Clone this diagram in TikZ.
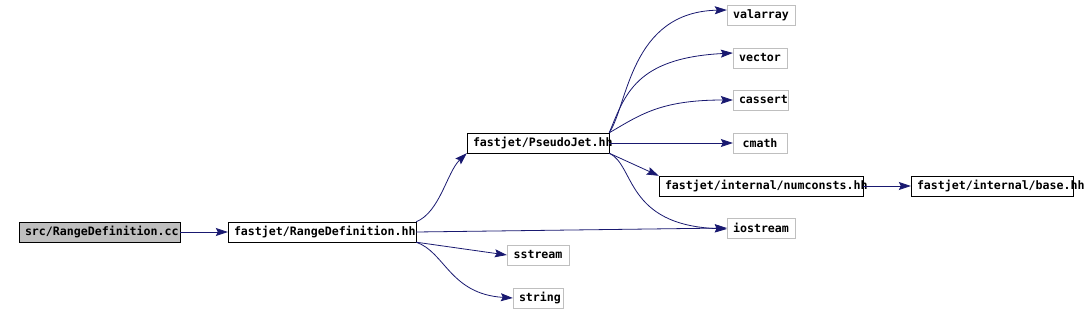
\documentclass[tikz,border=0pt]{standalone}
\usepackage{fontspec}
\setmonofont[HyphenChar=None]{DejaVu Sans Mono}
\usetikzlibrary{arrows.meta}
\definecolor{edgeblue}{HTML}{191970}
\definecolor{boxgray}{HTML}{BFBFBF}

\begin{document}
\begin{tikzpicture}[x=1pt, y=-1pt, >={Stealth[length=12pt, width=8pt, inset=2pt]},
    file/.style={draw=black, rectangle, inner xsep=6pt, inner ysep=0pt,
        minimum height=20pt, text width=#1, align=center,
        font=\fontsize{11.6}{12}\selectfont\ttfamily\bfseries},
    sysfile/.style={file=#1, draw=boxgray},
    dep/.style={->, edgeblue, line width=0.8pt}]
    \useasboundingbox (0,0) rectangle (1089,313);

    % --- Source file and its direct header ---
    \node[file=149pt, fill=boxgray] (src) at (99.5,232) {src/RangeDefinition.cc};
    \node[file=176pt] (rdef) at (322,232) {fastjet/RangeDefinition.hh};

    % --- Second level ---
    \node[file=130pt] (pj) at (538,143) {fastjet/PseudoJet.hh};
    \node[sysfile=50pt] (sstream) at (538,255) {sstream};
    \node[sysfile=38pt] (string) at (538,298) {string};

    % --- Third level (system headers and internals) ---
    \node[sysfile=56pt] (valarray) at (761,15) {valarray};
    \node[sysfile=42pt] (vector) at (760,58) {vector};
    \node[sysfile=43pt] (cassert) at (760.5,100) {cassert};
    \node[sysfile=42pt] (cmath) at (760,143) {cmath};
    \node[file=192pt] (numconsts) at (761,186) {fastjet/internal/numconsts.hh};
    \node[sysfile=56pt] (iostream) at (761,228) {iostream};

    % --- Fourth level ---
    \node[file=150pt] (base) at (992,186) {fastjet/internal/base.hh};

    % --- Includes of src/RangeDefinition.cc ---
    \draw[dep] (src) -- (rdef);

    % --- Includes of fastjet/RangeDefinition.hh ---
    \draw[dep] (rdef.north east) .. controls (440,212) and (447,172) .. (pj.south west);
    \draw[dep] (rdef.east) -- (iostream.west);
    \draw[dep] (rdef.south east) -- (sstream.west);
    \draw[dep] (rdef.south east) .. controls (445,252) and (450,294) .. (string.west);

    % --- Includes of fastjet/PseudoJet.hh ---
    \draw[dep] (pj.north east) .. controls (628,105) and (630,12) .. ([yshift=5pt]valarray.west);
    \draw[dep] (pj.north east) .. controls (625,95) and (635,58) .. ([yshift=5pt]vector.west);
    \draw[dep] (pj.north east) .. controls (640,115) and (660,100) .. (cassert.west);
    \draw[dep] (pj.east) -- (cmath.west);
    \draw[dep] (pj.south east) -- (numconsts.north west);
    \draw[dep] (pj.south east) .. controls (635,165) and (625,225) .. ([yshift=-1pt]iostream.west);

    % --- Includes of fastjet/internal/numconsts.hh ---
    \draw[dep] (numconsts) -- (base);
\end{tikzpicture}
\end{document}
